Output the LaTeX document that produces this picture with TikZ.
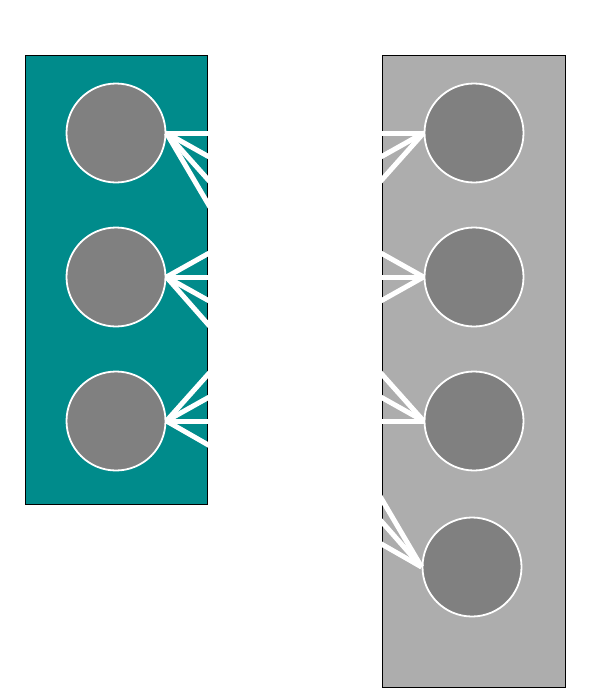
\documentclass[tikz,border=0pt]{standalone}
\usepackage{tikz}
\usetikzlibrary{positioning}
\definecolor{layerteal}{RGB}{0,139,139}
\definecolor{layergray}{RGB}{173,173,173}
\definecolor{unitgray}{RGB}{128,128,128}
\tikzset{
  layer/.style={draw=black, line width=0.8pt},
  unit/.style={circle, fill=unitgray, draw=white, line width=1.8pt, minimum size=99pt, inner sep=0pt},
  link/.style={draw=white, line width=5pt}
}

\begin{document}
\begin{tikzpicture}[x=1pt,y=-1pt]
      \useasboundingbox (0,0) rectangle (600,688);

      % First draw the two layer boxes.
      \filldraw[layer,fill=layerteal] (25,55) rectangle (207,504);
      \filldraw[layer,fill=layergray] (382,55) rectangle (565,687);

      % Now place the units.
      \foreach \i/\y in {1/133,2/277,3/421}
        \node[unit] (l\i) at (116,\y) {};
      \foreach \i/\x/\y in {1/474/133,2/474/277,3/474/421,4/472/567}
        \node[unit] (r\i) at (\x,\y) {};

      % Draw the links between the layers.
      \foreach \i in {1,2,3}
        \foreach \j in {1,2,3,4}
          \draw[link] (l\i.east) -- (r\j.west);
\end{tikzpicture}
\end{document}
